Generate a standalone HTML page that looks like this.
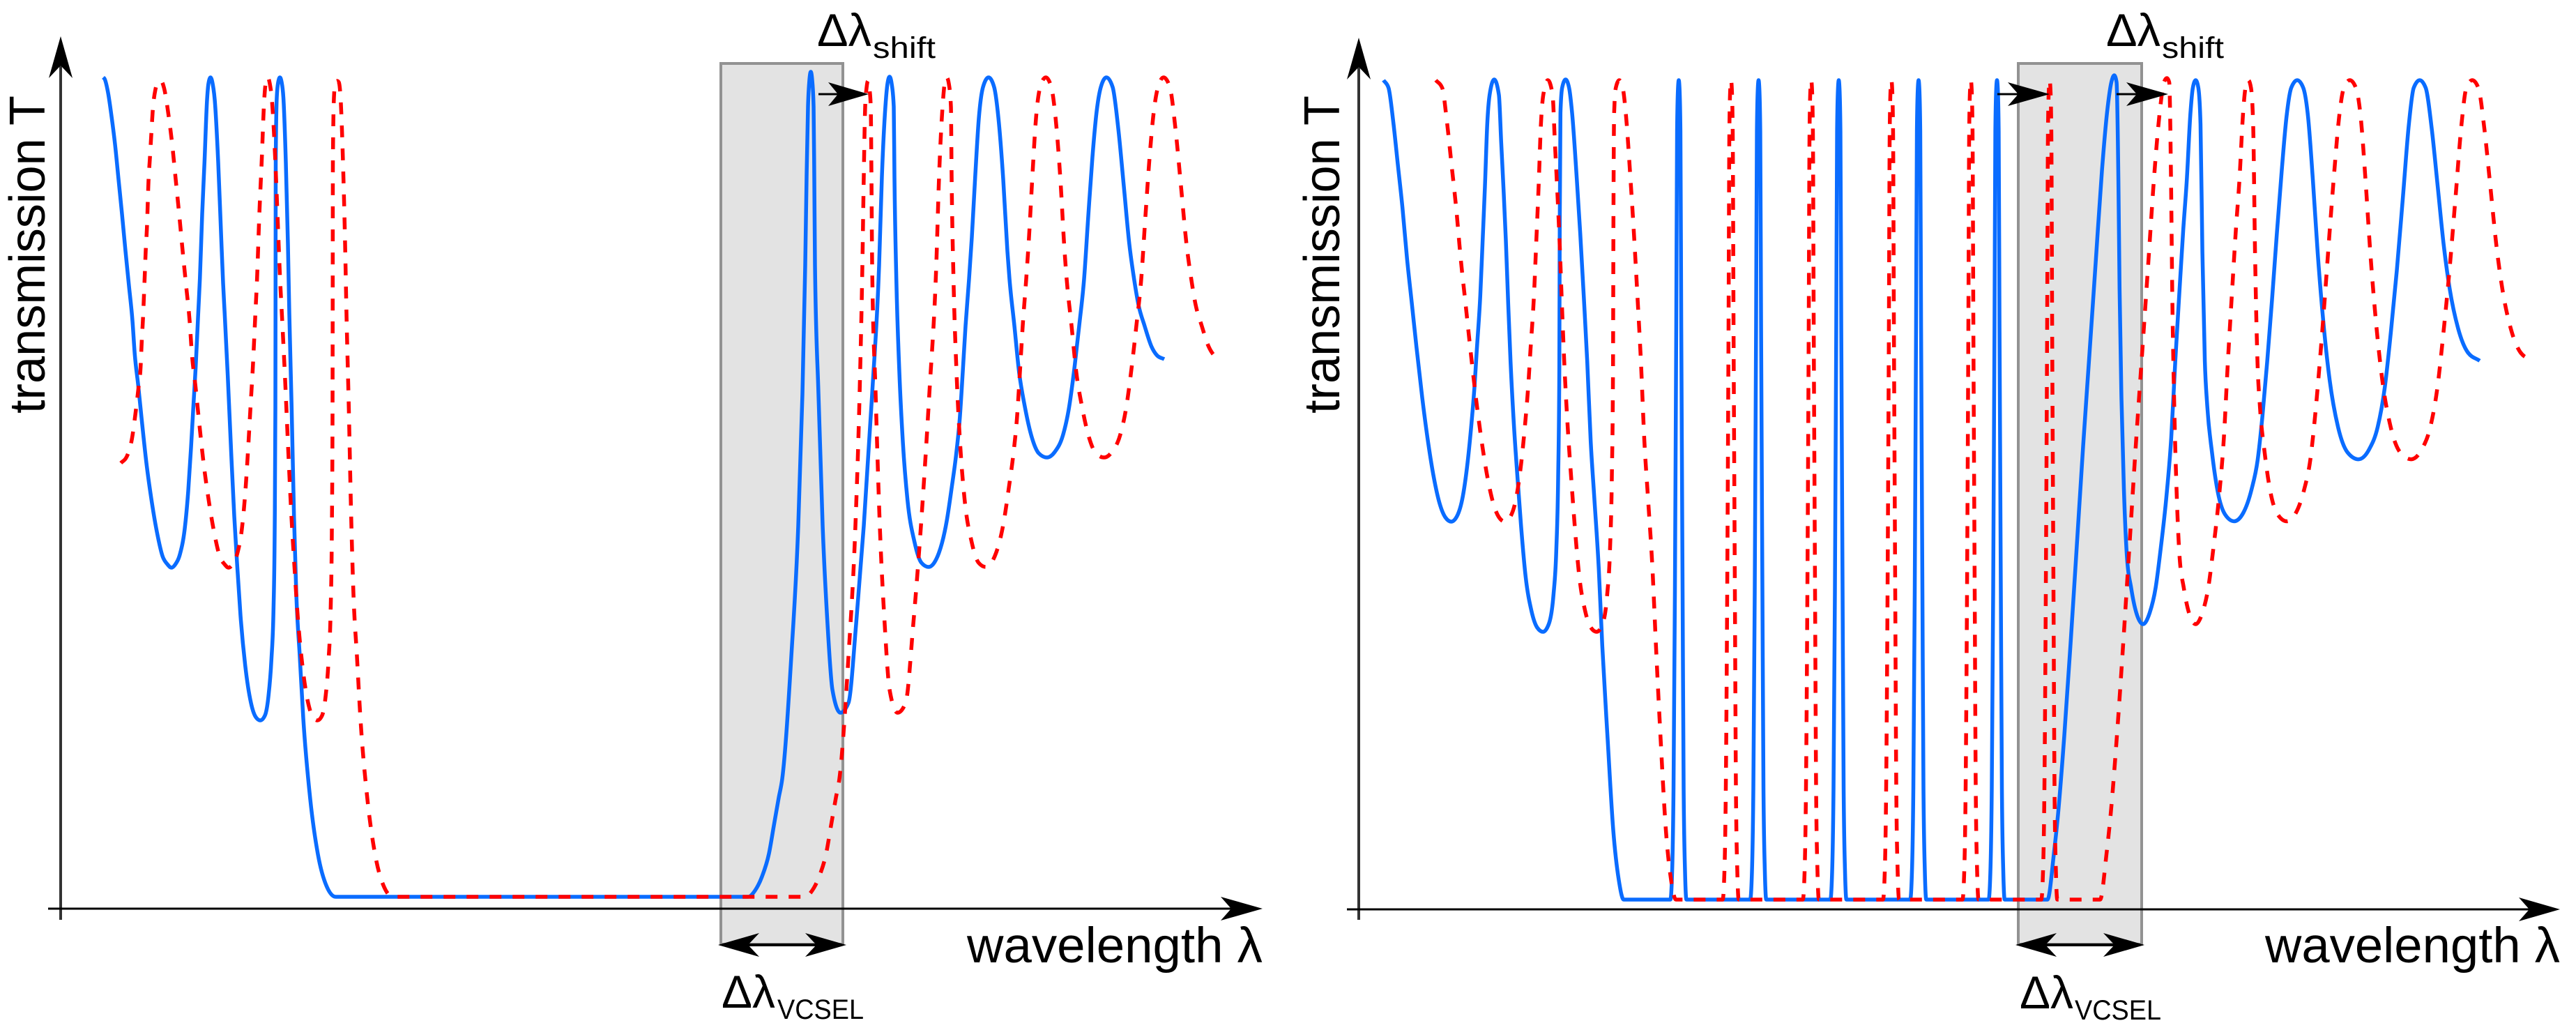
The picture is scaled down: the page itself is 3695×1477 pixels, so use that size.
<!DOCTYPE html>
<html lang="en">
<head>
<meta charset="utf-8">
<title>Transmission spectra with wavelength shift</title>
<style>
html,body{margin:0;padding:0;background:#fff}
svg{display:block}
text{font-family:"Liberation Sans",sans-serif;fill:#000}
.blue{fill:none;stroke:#0a6cff;stroke-width:5.5;stroke-linejoin:round}
.red{fill:none;stroke:#ff0000;stroke-width:5.5;stroke-dasharray:17 16}
</style>
</head>
<body>
<svg width="3695" height="1477" viewBox="0 0 3695 1477" xmlns="http://www.w3.org/2000/svg">
<rect x="0" y="0" width="3695" height="1477" fill="#fff"/>

<g>
<rect x="1034" y="91" width="175" height="1263" fill="#e3e3e3" stroke="#929292" stroke-width="4"/>
<path id="left-blue" class="blue"/>
<path id="left-red" class="red"/>
<line x1="87" y1="1319" x2="87" y2="80" stroke="#333" stroke-width="4"/>
<polygon points="87,52 70,112 87,94 104,112" fill="#000"/>
<line x1="69" y1="1303" x2="1780" y2="1303" stroke="#000" stroke-width="3"/>
<polygon points="1811,1303 1751,1286 1766,1303 1751,1320" fill="#000"/>
<text transform="translate(64,593) rotate(-90)" font-size="72" textLength="456" lengthAdjust="spacingAndGlyphs">transmission T</text>
<text x="1387" y="1380" font-size="71" textLength="424" lengthAdjust="spacingAndGlyphs">wavelength λ</text>
<line x1="1174" y1="135" x2="1215" y2="135" stroke="#000" stroke-width="3"/>
<polygon points="1246,135 1188,118 1202,135 1188,152" fill="#000"/>
<line x1="1060" y1="1355" x2="1185" y2="1355" stroke="#000" stroke-width="4"/>
<polygon points="1030,1355 1089,1338 1073,1355 1089,1372" fill="#000"/>
<polygon points="1214,1355 1155,1338 1171,1355 1155,1372" fill="#000"/>
<text x="1172" y="66" font-size="66" textLength="78" lengthAdjust="spacingAndGlyphs">Δλ</text>
<text x="1252" y="83" font-size="43" textLength="90" lengthAdjust="spacingAndGlyphs">shift</text>
<text x="1035" y="1445" font-size="66" textLength="77" lengthAdjust="spacingAndGlyphs">Δλ</text>
<text x="1115" y="1461" font-size="40" textLength="124" lengthAdjust="spacingAndGlyphs">VCSEL</text>
</g>

<g>
<rect x="2895" y="91" width="177" height="1263" fill="#e3e3e3" stroke="#929292" stroke-width="4"/>
<path id="right-blue" class="blue"/>
<path id="right-red" class="red"/>
<line x1="1949" y1="1319" x2="1949" y2="80" stroke="#333" stroke-width="4"/>
<polygon points="1949,54 1932,114 1949,96 1966,114" fill="#000"/>
<line x1="1932" y1="1304" x2="3640" y2="1304" stroke="#000" stroke-width="3"/>
<polygon points="3672,1304 3613,1287 3628,1304 3613,1321" fill="#000"/>
<text transform="translate(1921,593) rotate(-90)" font-size="72" textLength="456" lengthAdjust="spacingAndGlyphs">transmission T</text>
<text x="3249" y="1380" font-size="71" textLength="423" lengthAdjust="spacingAndGlyphs">wavelength λ</text>
<line x1="2865" y1="135" x2="2910" y2="135" stroke="#000" stroke-width="3"/>
<polygon points="2940,135 2880,118 2895,135 2880,152" fill="#000"/>
<line x1="3036" y1="135" x2="3080" y2="135" stroke="#000" stroke-width="3"/>
<polygon points="3110,135 3050,118 3065,135 3050,152" fill="#000"/>
<line x1="2920" y1="1355" x2="3047" y2="1355" stroke="#000" stroke-width="4"/>
<polygon points="2891,1355 2950,1338 2934,1355 2950,1372" fill="#000"/>
<polygon points="3076,1355 3017,1338 3033,1355 3017,1372" fill="#000"/>
<text x="3021" y="66" font-size="66" textLength="78" lengthAdjust="spacingAndGlyphs">Δλ</text>
<text x="3101" y="83" font-size="43" textLength="89" lengthAdjust="spacingAndGlyphs">shift</text>
<text x="2897" y="1446" font-size="66" textLength="77" lengthAdjust="spacingAndGlyphs">Δλ</text>
<text x="2976" y="1462" font-size="40" textLength="124" lengthAdjust="spacingAndGlyphs">VCSEL</text>
</g>
</svg>

<script>
// Readings from the picture: [wavelength (a.u.), transmission (a.u.)]
const leftBlue = [[6.1,117.5],[6.3,117.3],[6.8,115.3],[7.3,111.9],[7.8,107.9],[8.3,102.9],[8.8,97.9],[9.3,92.6],[9.8,87.6],[10.3,82.6],[10.63,77.8],[11.13,73.3],[11.63,68.4],[12.3,62.2],[12.97,57.3],[13.8,52.35],[14.63,48.8],[15.3,47.7],[15.9,47.2],[16.47,47.7],[17.13,49.2],[17.8,52.8],[18.3,58.2],[18.7,64.4],[19.03,70.2],[19.37,76],[19.73,83.6],[19.97,88.6],[20.3,97.9],[20.63,105.3],[21,114.3],[21.2,116.6],[21.5,117.5],[21.8,116.6],[22.1,114.3],[22.6,105.3],[23,95.3],[23.3,88],[23.53,83.6],[23.97,74.7],[24.47,63.5],[24.9,54.6],[25.3,47.9],[25.8,40.3],[26.47,33.2],[27.3,27.8],[27.97,25.8],[28.63,25.3],[29.3,26],[29.8,28.7],[30.23,34],[30.53,41.2],[30.7,52.4],[30.8,70.2],[30.82,83.6],[30.85,105.3],[31,114.6],[31.2,116.8],[31.45,117.5],[31.7,116.8],[31.95,114.6],[32.3,105.3],[32.6,93.6],[32.8,83.6],[33.13,70.2],[33.47,54.6],[33.8,43.4],[34.3,34.5],[34.8,25.6],[35.8,14],[36.9,6.1],[38.2,1.4],[39.45,0],
[98.6,0],[99.6,0.9],[100.6,2.9],[101.6,6.2],[102.3,10.2],[103,14.2],[103.5,16.9],[104.8,34.4],[105.8,53.2],[106.4,72.1],[106.8,90.6],[107,103.3],[107.2,113.3],[107.4,117.1],[107.6,118.3],[107.8,117.1],[108,113.3],[108.1,103.3],[108.2,90.6],[108.7,72.1],[109.3,53.2],[110,39.1],[110.7,29.7],[111.85,26.4],[113,27.8],[114.1,39.1],[115.2,53.2],[116.4,72.1],[117.4,90.6],[117.8,103.3],[118.3,113.3],[118.6,116.6],[118.9,117.6],[119.2,116.6],[119.5,113.3],[119.6,103.3],[119.87,88.6],[120.3,75.3],[120.8,65.3],[121.47,56.9],[122.47,50.9],[123.47,47.9],[124.5,47.3],[125.97,49.3],[127.1,53.9],[127.8,58.6],[128.47,63.6],[128.97,68.6],[129.4,75.3],[129.8,81.9],[130.3,88.6],[130.7,94.6],[131.2,103.6],[131.7,111.6],[132.3,116.1],[133.1,117.5],[133.9,116.1],[134.5,111.8],[135.2,102.9],[135.8,92.6],[136.1,88.6],[136.8,81.9],[137.47,75.3],[138.3,70.3],[139.3,65.9],[140.3,63.6],[141.47,63],[142.6,63.8],[143.8,66.3],[144.6,69.9],[145.47,76.3],[146.1,81.9],[146.8,88.6],[147.4,97.6],[148,106.1],[148.6,112.6],[149.2,116.1],[150,117.5],[150.9,116.1],[151.7,110.2],[152.5,101.9],[153.3,93.5],[153.97,88.6],[154.6,84.9],[155.47,81.9],[156.47,78.9],[157.3,77.6],[158.3,77.1]];

const leftRed = [[8.63,62.2],[9.47,63.1],[10.23,65.7],[10.73,69.3],[11.13,72.7],[11.47,76],[11.63,79.6],[11.8,82.7],[12.07,89.3],[12.2,92.6],[12.37,95.8],[12.6,102.6],[12.8,105.9],[13,109.3],[13.2,112.6],[13.6,115.8],[14,116.8],[14.4,117],[14.8,116.1],[15.5,111.9],[16,107.9],[16.5,102.9],[17,97.9],[17.5,92.6],[18,87.6],[18.5,82.6],[18.83,77.8],[19.33,73.3],[19.83,68.4],[20.5,62.2],[21.17,57.3],[22,52.35],[22.83,48.8],[23.5,47.7],[24.1,47.2],[24.67,47.7],[25.33,49.2],[26,52.8],[26.5,58.2],[26.9,64.4],[27.23,70.2],[27.57,76],[27.93,83.6],[28.17,88.6],[28.5,97.9],[28.83,105.3],[29.2,114.3],[29.4,116.6],[29.7,117.5],[30,116.6],[30.3,114.3],[30.8,105.3],[31.2,95.3],[31.5,88],[31.73,83.6],[32.17,74.7],[32.67,63.5],[33.1,54.6],[33.5,47.9],[34,40.3],[34.67,33.2],[35.5,27.8],[36.17,25.8],[36.83,25.3],[37.5,26],[38,28.7],[38.43,34],[38.73,41.2],[38.9,52.4],[39,70.2],[39.02,83.6],[39.05,105.3],[39.2,114.6],[39.4,116.8],[39.65,117],[39.9,116.8],[40.15,114.6],[40.5,105.3],[40.8,93.6],[41,83.6],[41.33,70.2],[41.67,54.6],[42,43.4],[42.5,34.5],[43,25.6],[44,14],[45.1,6.1],[46.4,1.4],[47.65,0],
[106.8,0],[107.8,0.9],[108.8,2.9],[109.8,6.2],[110.5,10.2],[111.2,14.2],[111.7,16.9],[113,34.4],[114,53.2],[114.6,72.1],[115,90.6],[115.2,103.3],[115.4,113.3],[115.6,116],[115.8,117],[116,116],[116.2,113.3],[116.3,103.3],[116.4,90.6],[116.9,72.1],[117.5,53.2],[118.2,39.1],[118.9,29.7],[120.05,26.4],[121.2,27.8],[122.3,39.1],[123.4,53.2],[124.6,72.1],[125.6,90.6],[126,103.3],[126.5,113.3],[126.8,116.6],[127.1,117.5],[127.4,116.6],[127.7,113.3],[127.8,103.3],[128.07,88.6],[128.5,75.3],[129,65.3],[129.67,56.9],[130.67,50.9],[131.67,47.9],[132.7,47.3],[134.17,49.3],[135.3,53.9],[136,58.6],[136.67,63.6],[137.17,68.6],[137.6,75.3],[138,81.9],[138.5,88.6],[138.9,94.6],[139.4,103.6],[139.9,111.6],[140.5,116.1],[141.3,117.5],[142.1,116.1],[142.7,111.8],[143.4,102.9],[144,92.6],[144.3,88.6],[145,81.9],[145.67,75.3],[146.5,70.3],[147.5,65.9],[148.5,63.6],[149.67,63],[150.8,63.8],[152,66.3],[152.8,69.9],[153.67,76.3],[154.3,81.9],[155,88.6],[155.6,97.6],[156.2,106.1],[156.8,112.6],[157.4,116.1],[158.2,117.5],[159.1,116.1],[159.9,110.2],[160.7,101.9],[161.5,93.5],[162.17,88.6],[162.8,84.9],[163.67,81.9],[164.67,78.9],[165.5,77.6],[166.5,77.1]];

const rightBlueHead = [[3.55,117.5],[4.27,116.4],[4.93,111.7],[5.6,105.45],[6.27,99.2],[6.93,91.85],[7.6,85.6],[8.27,79.3],[9.1,72],[9.93,65.7],[10.77,60.5],[11.6,56.8],[12.43,54.8],[13.27,54.2],[14.1,55],[14.93,57.85],[15.6,62.6],[16.17,68.3],[16.6,73.54],[16.93,78.8],[17.43,86.6],[17.77,94.5],[18.1,102.3],[18.43,111.2],[18.77,115.4],[19.43,117.6],[20.1,115.4],[20.43,108.6],[20.77,101.8],[21.1,94.5],[21.43,85.6],[21.77,77.2],[22.27,67.8],[22.77,60.5],[23.27,53.7],[23.93,46.35],[24.77,41.4],[25.6,39],[26.43,38.4],[27.27,39.55],[27.93,43.7],[28.33,50],[28.6,60.5],[28.77,76.2],[28.83,97.1],[28.93,112.8],[29.17,116.4],[29.67,117.6],[30.17,116.4],[30.6,112.8],[31.27,103.4],[31.77,95.5],[32.27,86.6],[32.77,77.2],[33.27,65.7],[33.77,57.85],[34.43,47.4],[34.93,36.4],[35.7,23],[36.5,10],[37.3,2.8],[38,0]];

const rightBlueNarrowPeaks = [45.9,57.35,68.85,80.3,91.55];

const rightBlueTail = [[98.79,0],[99.7,6.5],[100.3,12.2],[101.2,23.5],[102.1,36.7],[103,50.8],[103.9,65],[104.8,78.1],[105.7,91.3],[106.6,104.5],[107.35,113],[107.95,117.2],[108.37,118.2],[108.7,117.2],[108.96,103.3],[109.13,87.6],[109.4,71.9],[109.75,58.9],[110.17,49.4],[110.79,44.7],[111.54,41.1],[112.5,39.5],[113.44,41.1],[114.3,44.7],[114.99,50],[115.85,57.8],[116.54,66.2],[117.12,77.2],[117.74,87.6],[118.26,96],[118.78,103.3],[119.29,112.7],[119.64,116.4],[120.05,117.5],[120.43,116.4],[120.74,111.2],[121.01,92.85],[121.36,77.2],[121.7,70.9],[122.39,64.1],[123.25,58.3],[124.28,55.2],[125.56,54.25],[126.87,55.45],[128.07,58.85],[128.93,63],[129.62,69.3],[130.31,77.2],[131,86.05],[131.69,95.5],[132.38,104.4],[133.07,112.2],[133.75,116.4],[134.62,117.5],[135.48,116.4],[136.17,112.2],[136.85,103.3],[137.54,92.85],[138.4,82.4],[139.26,74.54],[140.47,67.75],[141.85,64.1],[143.4,63.14],[144.95,64.6],[146.15,67.75],[147.18,73.5],[148.04,81.34],[148.9,90.23],[149.77,100.7],[150.63,111.2],[151.32,116.4],[152.18,117.5],[153.04,116.4],[153.9,110.6],[154.76,102.3],[155.62,93.9],[156.48,87.6],[157.69,81.9],[159.06,78.5],[160.79,77.26]];

const rightRedHead = [[11.05,117.5],[11.97,116.4],[12.63,111.7],[13.3,105.45],[13.97,99.2],[14.63,91.85],[15.3,85.6],[15.97,79.3],[16.8,72],[17.63,65.7],[18.47,60.5],[19.3,56.8],[20.13,54.8],[20.97,54.2],[21.8,55],[22.63,57.85],[23.3,62.6],[23.87,68.3],[24.3,73.54],[24.63,78.8],[25.13,86.6],[25.47,94.5],[25.8,102.3],[26.13,111.2],[26.47,115.4],[27.13,117.5],[27.8,115.4],[28.13,108.6],[28.47,101.8],[28.8,94.5],[29.13,85.6],[29.47,77.2],[29.97,67.8],[30.47,60.5],[30.97,53.7],[31.63,46.35],[32.47,41.4],[33.3,39],[34.13,38.4],[34.97,39.55],[35.63,43.7],[36.03,50],[36.3,60.5],[36.47,76.2],[36.53,97.1],[36.63,112.8],[36.87,116.4],[37.37,117.5],[37.87,116.4],[38.3,112.8],[38.97,103.4],[39.47,95.5],[39.97,86.6],[40.47,77.2],[40.97,65.7],[41.47,57.85],[42.13,47.4],[42.63,36.4],[43.3,23],[44.05,10],[44.8,2.8],[45.5,0]];

const rightRedNarrowPeaks = [53.4,64.9,76.4,87.8,99.1];

const rightRedTail = [[106.34,0],[107.25,6.5],[107.85,12.2],[108.75,23.5],[109.65,36.7],[110.55,50.8],[111.45,65],[112.35,78.1],[113.25,91.3],[114.15,104.5],[114.9,113],[115.5,117.2],[115.92,117.8],[116.25,117.2],[116.51,103.3],[116.68,87.6],[116.95,71.9],[117.3,58.9],[117.72,49.4],[118.34,44.7],[119.09,41.1],[120.05,39.5],[120.99,41.1],[121.85,44.7],[122.54,50],[123.4,57.8],[124.09,66.2],[124.67,77.2],[125.29,87.6],[125.81,96],[126.33,103.3],[126.84,112.7],[127.19,116.4],[127.6,117.5],[127.98,116.4],[128.29,111.2],[128.56,92.85],[128.91,77.2],[129.25,70.9],[129.94,64.1],[130.8,58.3],[131.83,55.2],[133.11,54.25],[134.42,55.45],[135.62,58.85],[136.48,63],[137.17,69.3],[137.86,77.2],[138.55,86.05],[139.24,95.5],[139.93,104.4],[140.62,112.2],[141.3,116.4],[142.17,117.5],[143.03,116.4],[143.72,112.2],[144.4,103.3],[145.09,92.85],[145.95,82.4],[146.81,74.54],[148.02,67.75],[149.4,64.1],[150.95,63.14],[152.5,64.6],[153.7,67.75],[154.73,73.5],[155.59,81.34],[156.45,90.23],[157.32,100.7],[158.18,111.2],[158.87,116.4],[159.73,117.5],[160.59,116.4],[161.45,110.6],[162.31,102.3],[163.17,93.9],[164.03,87.6],[165.24,81.9],[166.61,78.5],[168.34,77.26]];

// Shape of one narrow comb line: wavelength offset from its centre, transmission.
const narrowOffsets = [-1.2,-0.95,-0.75,-0.55,-0.36,-0.24,-0.1,0,0.1,0.24,0.36,0.55,0.7,0.9,1.1];
const narrowLevels = [0,4,16,44.2,81.9,110.2,116.5,117.5,116.5,110.2,81.9,44.2,16,4,0];

function xAxis(origin, lambda) { return origin + lambda * 10; }
function yAxis(base, t) { return base - t * 10; }

function withNarrowPeaks(head, centres, tail) {
  const out = head.slice();
  centres.forEach(function (c) {
    narrowOffsets.forEach(function (o, i) { out.push([c + o, narrowLevels[i]]); });
  });
  return out.concat(tail);
}

// Monotone cubic path through the readings, so steep flanks never overshoot.
function monotonePath(series, origin, base) {
  const xs = series.map(function (p) { return xAxis(origin, p[0]); });
  const ys = series.map(function (p) { return yAxis(base, p[1]); });
  const n = xs.length;
  const m = new Array(n);
  const s = new Array(n - 1);
  for (let i = 0; i < n - 1; i++) s[i] = (ys[i + 1] - ys[i]) / (xs[i + 1] - xs[i]);
  for (let i = 1; i < n - 1; i++) {
    const h0 = xs[i] - xs[i - 1], h1 = xs[i + 1] - xs[i];
    const p = (s[i - 1] * h1 + s[i] * h0) / (h0 + h1);
    m[i] = (Math.sign(s[i - 1]) + Math.sign(s[i])) * Math.min(Math.abs(s[i - 1]), Math.abs(s[i]), 0.5 * Math.abs(p));
  }
  m[0] = s[0];
  m[n - 1] = s[n - 2];
  let d = 'M' + xs[0].toFixed(1) + ' ' + ys[0].toFixed(1);
  for (let i = 0; i < n - 1; i++) {
    const dx = (xs[i + 1] - xs[i]) / 3;
    d += 'C' + (xs[i] + dx).toFixed(2) + ' ' + (ys[i] + m[i] * dx).toFixed(2) + ' ' +
      (xs[i + 1] - dx).toFixed(2) + ' ' + (ys[i + 1] - m[i + 1] * dx).toFixed(2) + ' ' +
      xs[i + 1].toFixed(2) + ' ' + ys[i + 1].toFixed(2);
  }
  return d;
}

document.getElementById('left-blue').setAttribute('d', monotonePath(leftBlue, 87, 1286));
document.getElementById('left-red').setAttribute('d', monotonePath(leftRed, 87, 1286));
document.getElementById('right-blue').setAttribute('d', monotonePath(withNarrowPeaks(rightBlueHead, rightBlueNarrowPeaks, rightBlueTail), 1949, 1290));
document.getElementById('right-red').setAttribute('d', monotonePath(withNarrowPeaks(rightRedHead, rightRedNarrowPeaks, rightRedTail), 1949, 1290));
</script>
</body>
</html>
